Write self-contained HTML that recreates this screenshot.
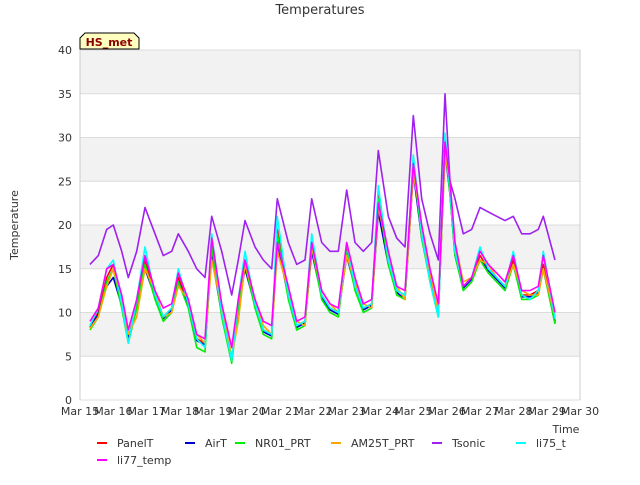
<!DOCTYPE html>
<html><head><meta charset="utf-8"><style>
body{margin:0;background:#fff;font-family:"Liberation Sans","DejaVu Sans",sans-serif}
svg text{font-family:"DejaVu Sans","Liberation Sans",sans-serif}
</style></head><body>
<svg id="chart" width="640" height="480" xmlns="http://www.w3.org/2000/svg">
<rect width="640" height="480" fill="#fff"/>
<g id="bands"></g><g id="grid"></g><g id="series"></g><g id="axes"></g>
<text x="320" y="14" text-anchor="middle" font-size="13" fill="#333">Temperatures</text>
<text x="18" y="225" text-anchor="middle" font-size="11" fill="#333" transform="rotate(-90 18 225)">Temperature</text>
<text x="566" y="433" text-anchor="middle" font-size="11" fill="#333">Time</text>
<g>
<path d="M80,49 L80,38 L85,33 L134,33 L139,38 L139,49 Z" fill="#ffffc0" stroke="#000" stroke-width="1"/>
<text x="109" y="46" text-anchor="middle" font-size="11" font-weight="bold" fill="#8b0000">HS_met</text>
</g>
<g id="legend"></g>
</svg>
<script>
const times=[15.3,15.55,15.8,16.0,16.25,16.45,16.7,16.95,17.25,17.5,17.75,17.95,18.25,18.5,18.75,18.95,19.25,19.55,19.75,19.95,20.25,20.5,20.75,20.92,21.25,21.5,21.75,21.95,22.25,22.5,22.75,23.0,23.25,23.5,23.75,23.95,24.25,24.5,24.75,25.0,25.25,25.5,25.75,25.95,26.1,26.25,26.5,26.75,27.0,27.25,27.5,27.75,28.0,28.25,28.5,28.75,28.9,29.25];
const panelT=[8.5,10,14,15.5,11,7,11,16,12,9.5,10.5,14,11,7,6.5,18,10,4.5,11,16,11,8,7.5,19.5,12,8.5,9,18,12,10.5,10,17.5,13,10.5,11,23.5,16,12.5,12,27.5,19,14,10,29.5,24,17,13,14,16.5,15,14,13,16,12,12,12.5,15.5,9];
const airT=[8.3,9.8,13,14,10.8,7,10.5,15,11.8,9.3,10.3,13.5,10.8,6.8,6.3,16.5,9.8,4.5,10.5,15,10.8,7.8,7.3,18,11.8,8.3,8.8,17,11.8,10.3,9.8,16.5,12.8,10.3,10.8,21.5,15.5,12.3,11.5,26,18.5,13.8,9.8,28.5,23.5,16.5,12.8,13.8,16,14.8,13.8,12.8,15.5,11.8,11.8,12.3,15,8.8];
const nr01=[8,9.5,13.5,15,10.5,6.5,10.5,15.5,11.5,9,10,13.5,10.5,6,5.5,17.5,9.5,4.2,10.5,15.5,10.5,7.5,7,19,11.5,8,8.5,17.5,11.5,10,9.5,17,12.5,10,10.5,23,15.5,12,11.5,27,18.5,13.5,9.5,29,23.5,16.5,12.5,13.5,16,14.5,13.5,12.5,15.5,11.5,11.5,12,15,8.7];
const am25t=[8.2,9.5,13,15,11.5,7.5,9.5,15,12.5,9.5,10,13,11.5,7.5,6.5,16,10.5,5,9,15.5,11.5,8.5,7.5,17,12.5,9,8.5,17.5,12.5,11,10,16.5,13.5,11,10.5,22,17,13,11.5,26,20,14.5,10,28,25,18,13.5,14,16,15.5,14,13,15.5,12.5,12,12,15,9.5];
const tsonic=[15.5,16.5,19.5,20,17,14,17,22,19,16.5,17,19,17,15,14,21,17,12,16,20.5,17.5,16,15,23,18,15.5,16,23,18,17,17,24,18,17,18,28.5,21,18.5,17.5,32.5,23,19,16,35,25,23,19,19.5,22,21.5,21,20.5,21,19,19,19.5,21,16];
const li75=[8.5,10.5,15,16,11,6.5,11.5,17.5,12,9.5,10.5,15,11,7,6,19,10,4.5,11.5,17,11,8,7.5,21,12,8.5,9,19,12,10.5,10,18,13,10.5,11,24.5,16,12.5,12,28,19,13.5,9.5,30.5,24,17,13,14,17.5,15,14,13,17,12,11.5,12.5,17,9.3];
const li77=[9,10.5,15,15.5,12,8,11.5,16.5,12.5,10.5,11,14.5,11.5,7.5,7,18.5,11,6,11.5,16,11.5,9,8.5,18,13,9,9.5,18,12.5,11,10.5,18,14,11,11.5,22.5,17,13,12.5,27,20,15,11,29.5,25,18,13,14,17,15.5,14.5,13.5,16.5,12.5,12.5,13,16.5,10];
const yTicks=[0,5,10,15,20,25,30,35,40];
const xTickLabels=["Mar 15","Mar 16","Mar 17","Mar 18","Mar 19","Mar 20","Mar 21","Mar 22","Mar 23","Mar 24","Mar 25","Mar 26","Mar 27","Mar 28","Mar 29","Mar 30"];
const xTickValues=[15,16,17,18,19,20,21,22,23,24,25,26,27,28,29,30];
const seriesNames=["PanelT","AirT","NR01_PRT","AM25T_PRT","Tsonic","li75_t","li77_temp"];
const seriesData=[panelT,airT,nr01,am25t,tsonic,li75,li77];
const seriesColors=["#ff0000","#0000cd","#00ee00","#ffa500","#a020f0","#00ffff","#ff00ff"];

const L=80,R=580,T=50,B=400,NS="http://www.w3.org/2000/svg";
const xs=t=>L+(t-15)/15*(R-L);
const ys=v=>B-v/40*(B-T);
function mk(tag,attrs,parent){const e=document.createElementNS(NS,tag);for(const k in attrs)e.setAttribute(k,attrs[k]);parent.appendChild(e);return e;}
const bands=document.getElementById('bands'),grid=document.getElementById('grid'),axes=document.getElementById('axes'),ser=document.getElementById('series'),leg=document.getElementById('legend');
for(let i=0;i<yTicks.length-1;i++){
  if(i%2===1){const r=mk('rect',{x:L,y:ys(yTicks[i+1]),width:R-L,height:ys(yTicks[i])-ys(yTicks[i+1]),fill:'#f2f2f2'},bands);
  
  }
}
yTicks.forEach(v=>{
  const g=mk('line',{x1:L,x2:R,y1:ys(v),y2:ys(v),stroke:'#dcdcdc','stroke-width':1},grid);
  
  
  const t=mk('text',{x:L-8,y:ys(v)+4,'text-anchor':'end','font-size':11,fill:'#333'},axes);
  t.textContent=v;
  
  
});
mk('line',{x1:L,x2:L,y1:T,y2:B,stroke:'#ccc'},axes);
mk('line',{x1:R,x2:R,y1:T,y2:B,stroke:'#ccc'},axes);
xTickValues.forEach((v,i)=>{
  const t=mk('text',{x:xs(v),y:B+15,'text-anchor':'middle','font-size':11,fill:'#333'},axes);
  t.textContent=xTickLabels[i];
  
  
});
seriesData.forEach((d,si)=>{
  const p=d.map((v,i)=>(i?'L':'M')+xs(times[i]).toFixed(1)+','+ys(v).toFixed(1)).join(' ');
  const path=mk('path',{d:p,fill:'none',stroke:seriesColors[si],'stroke-width':1.6,'stroke-linejoin':'round'},ser);
  
  
});
const legPos=[[97,443],[185,443],[235,443],[331,443],[432,443],[516,443],[97,460]];
seriesNames.forEach((n,i)=>{
  const g=mk('g',{},leg);
  
  
  const [x,y]=legPos[i];
  mk('line',{x1:x,x2:x+10,y1:y,y2:y,stroke:seriesColors[i],'stroke-width':2},g);
  const t=mk('text',{x:x+20,y:y+4,'font-size':11,fill:'#333'},g);
  t.textContent=n;
});
</script>
</body></html>
